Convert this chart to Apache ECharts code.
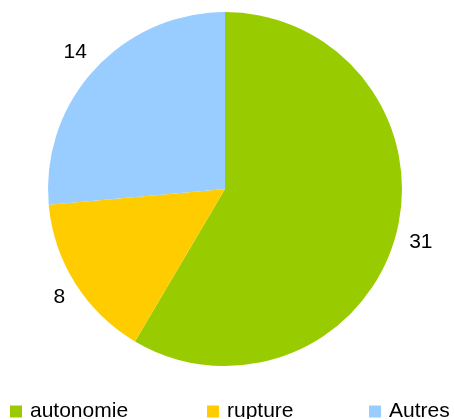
<!DOCTYPE html>
<html>
<head>
<meta charset="utf-8">
<script src="https://cdn.jsdelivr.net/npm/echarts@6/dist/echarts.min.js"></script>
<style>
  html, body { margin: 0; padding: 0; background: #fff; }
  #PieChart { width: 454px; height: 419px; }
</style>
</head>
<body>
<div id="PieChart"></div>
<script>
/* data */
const categories = ['autonomie', 'rupture', 'Autres']
const values = [31, 8, 14]
const colors = ['#99cc00', '#ffcc00', '#99ccff']
const legendLeft = [10, 207, 369]

const font = '"Liberation Sans", Arial, sans-serif'

const pieData = categories.map((name, i) => ({
  name: name,
  value: values[i],
  itemStyle: { color: colors[i] }
}))

// the "8" sits a bit closer to its slice than the other two values
const labelPadding = { rupture: [0, 0, 0, 12] }

const myChart = echarts.init(document.getElementById('PieChart'))
myChart.setOption({
  animation: false,
  /* one legend per item so each sits where the reference puts it */
  legend: categories.map((name, i) => ({
    data: [name],
    left: legendLeft[i],
    top: 401,
    padding: 0,
    itemWidth: 12,
    itemHeight: 12,
    icon: 'rect',
    selectedMode: false,
    textStyle: {
      fontFamily: font,
      fontSize: 21,
      color: '#000',
      padding: [0, 0, 0, 3]
    }
  })),
  series: [
    {
      name: 'pie',
      type: 'pie',
      center: [225, 189],
      radius: 177,
      startAngle: 90,
      clockwise: true,
      silent: true,
      label: { show: false },
      labelLine: { show: false },
      emphasis: { disabled: true },
      data: pieData
    },
    // invisible ring, only used to put the values just outside the slices
    {
      name: 'labels',
      type: 'pie',
      center: [225, 189],
      radius: [198, 202],
      startAngle: 90,
      clockwise: true,
      silent: true,
      itemStyle: { color: 'rgba(0,0,0,0)' },
      label: {
        show: true,
        position: 'inside',
        formatter: '{c}',
        fontFamily: font,
        fontSize: 21,
        color: '#000'
      },
      labelLine: { show: false },
      emphasis: { disabled: true },
      data: categories.map((name, i) => ({
        name: name,
        value: values[i],
        label: labelPadding[name] ? { padding: labelPadding[name] } : {}
      }))
    }
  ]
})
</script>
</body>
</html>
